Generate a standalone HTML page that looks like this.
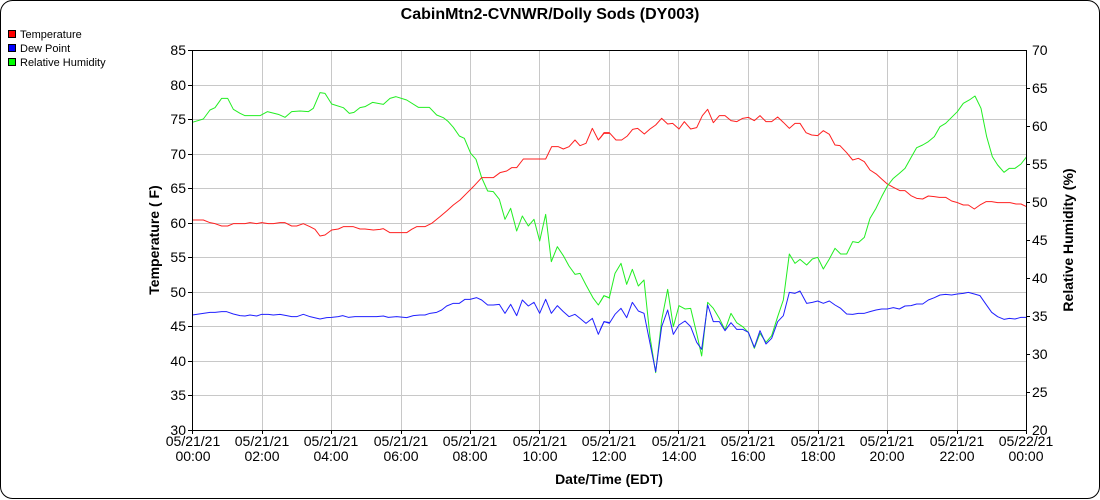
<!DOCTYPE html>
<html><head><meta charset="utf-8"><style>
html,body{margin:0;padding:0;background:#fff;}
svg{display:block;font-family:"Liberation Sans",sans-serif;}
</style></head><body>
<svg width="1100" height="500" viewBox="0 0 1100 500" xmlns="http://www.w3.org/2000/svg">
<rect x="0.5" y="0.5" width="1099" height="498" rx="12" fill="#fff" stroke="#000" stroke-width="1"/>
<text x="550" y="19" font-size="16" font-weight="bold" text-anchor="middle">CabinMtn2-CVNWR/Dolly Sods (DY003)</text>
<g font-size="11">
<rect x="8.5" y="30.5" width="7" height="7" fill="#f00" stroke="#000"/><text x="20" y="38">Temperature</text>
<rect x="8.5" y="44.5" width="7" height="7" fill="#00f" stroke="#000"/><text x="20" y="52">Dew Point</text>
<rect x="8.5" y="58.5" width="7" height="7" fill="#0f0" stroke="#000"/><text x="20" y="66">Relative Humidity</text>
</g>
<g stroke="#c8c8c8" stroke-width="1">
<line x1="192" y1="85.5" x2="1026" y2="85.5"/><line x1="192" y1="119.5" x2="1026" y2="119.5"/><line x1="192" y1="154.5" x2="1026" y2="154.5"/><line x1="192" y1="188.5" x2="1026" y2="188.5"/><line x1="192" y1="223.5" x2="1026" y2="223.5"/><line x1="192" y1="257.5" x2="1026" y2="257.5"/><line x1="192" y1="292.5" x2="1026" y2="292.5"/><line x1="192" y1="326.5" x2="1026" y2="326.5"/><line x1="192" y1="361.5" x2="1026" y2="361.5"/><line x1="192" y1="395.5" x2="1026" y2="395.5"/>
<line x1="262.5" y1="50" x2="262.5" y2="430"/><line x1="331.5" y1="50" x2="331.5" y2="430"/><line x1="401.5" y1="50" x2="401.5" y2="430"/><line x1="470.5" y1="50" x2="470.5" y2="430"/><line x1="539.5" y1="50" x2="539.5" y2="430"/><line x1="609.5" y1="50" x2="609.5" y2="430"/><line x1="678.5" y1="50" x2="678.5" y2="430"/><line x1="748.5" y1="50" x2="748.5" y2="430"/><line x1="818.5" y1="50" x2="818.5" y2="430"/><line x1="887.5" y1="50" x2="887.5" y2="430"/><line x1="957.5" y1="50" x2="957.5" y2="430"/>
</g>
<g fill="none" stroke-width="3" stroke-linejoin="round">
<g transform="translate(180,50) scale(0.33333)">
<polyline stroke="#22ee22" points="37,217 70,207 90,180 105,173 125,145 143,145 160,178 180,190 195,197 240,197 262,185 295,193 315,202 335,185 360,183 385,185 400,175 420,128 435,130 455,162 490,173 508,190 522,187 540,173 555,170 578,157 610,163 630,145 648,140 680,150 715,172 748,172 770,195 790,203 805,215 820,232 838,258 853,265 872,310 888,328 905,383 923,423 940,425 958,448 975,508 992,475 1010,543 1027,498 1045,528 1062,508 1079,573 1097,493 1114,635 1132,590 1150,617 1167,648 1185,673 1200,670 1218,705 1240,745 1255,765 1272,737 1290,745"/>
<polyline stroke="#ff2020" points="37,510 70,510 90,518 105,521 125,528 143,528 160,521 195,521 210,518 230,521 245,518 265,521 280,521 300,518 315,518 335,528 350,528 370,521 390,530 405,538 420,558 435,555 455,540 475,537 490,530 520,530 540,537 555,537 580,540 600,538 610,536 630,548 680,548 695,538 710,530 735,530 755,520 780,500 800,483 820,465 840,450 860,430 880,410 905,383 940,383 960,368 980,363 995,353 1010,353 1030,327 1097,327 1115,290 1135,290 1150,297 1167,290 1185,270 1200,287 1218,280 1237,235 1255,270 1272,250 1290,250"/>
<polyline stroke="#2020ff" points="37,795 90,787 105,787 125,785 140,785 160,792 180,797 195,798 210,795 230,798 245,793 265,793 280,795 300,793 320,797 335,800 350,800 370,793 390,800 420,807 440,803 455,802 475,800 488,797 505,802 525,800 545,800 570,800 590,800 610,798 625,802 650,800 680,803 700,797 720,795 735,795 750,790 770,787 785,780 800,768 820,760 838,760 855,748 870,748 890,743 905,750 923,765 940,765 958,763 975,790 992,763 1010,797 1027,750 1045,768 1062,757 1079,790 1097,748 1114,790 1132,767 1150,785 1167,800 1185,793 1200,805 1218,820 1237,805 1255,853 1272,815 1290,818"/>
</g>
<g transform="translate(600,50) scale(0.33333)">
<polyline stroke="#ff2020" points="0,265 12,248 28,248 48,270 65,270 82,258 98,238 113,235 133,252 150,237 167,225 185,205 203,222 218,220 237,237 253,215 272,237 290,233 307,197 323,178 340,218 358,197 375,197 393,212 410,215 428,205 445,202 463,212 480,197 498,215 515,215 533,201 550,217 568,235 585,220 600,220 618,248 635,255 653,257 670,242 688,253 705,285 720,287 740,308 758,330 775,325 793,335 810,360 830,373 845,387 862,402 880,412 900,422 915,422 933,437 950,445 968,447 985,438 1003,440 1018,442 1037,442 1055,453 1070,457 1090,465 1105,465 1123,477 1140,465 1158,455 1175,455 1193,458 1230,458 1248,462 1263,462 1280,470"/>
<polyline stroke="#22ee22" points="0,757 12,737 28,743 45,670 63,640 80,703 97,658 115,708 132,690 150,860 167,968 185,810 203,718 220,830 237,767 255,777 272,775 290,850 305,918 323,757 340,775 358,805 375,840 393,790 410,818 428,830 445,847 463,895 480,850 498,877 515,857 533,800 550,750 568,612 585,640 600,628 620,645 637,627 653,622 670,657 688,627 705,595 722,612 740,612 758,575 775,578 793,562 810,505 828,475 845,440 862,408 880,385 898,370 915,355 933,323 950,293 968,285 985,275 1003,260 1020,230 1037,220 1055,202 1072,185 1090,160 1108,150 1125,138 1143,175 1160,260 1177,320 1193,345 1212,367 1228,355 1245,355 1263,342 1280,320"/>
<polyline stroke="#2020ff" points="0,840 12,815 28,820 45,793 63,775 80,803 97,757 115,783 132,790 150,880 167,965 185,830 203,780 220,853 237,825 255,813 272,830 290,877 305,898 323,765 340,815 358,815 375,842 393,818 410,838 428,838 445,847 463,892 480,842 498,882 515,865 533,815 550,797 568,727 585,730 600,723 620,760 637,757 653,753 670,760 688,753 705,765 722,775 740,792 758,793 775,790 793,790 810,785 828,780 845,777 862,777 880,773 898,777 915,768 933,767 950,762 968,762 985,750 1003,743 1020,735 1037,733 1055,735 1072,732 1090,730 1105,727 1123,732 1140,737 1158,763 1175,787 1193,800 1212,808 1228,805 1245,807 1263,802 1280,802"/>
</g>
</g>
<g stroke="#000" stroke-width="1">
<line x1="192.5" y1="50" x2="192.5" y2="431"/><line x1="1026.5" y1="50" x2="1026.5" y2="431"/>
<line x1="192" y1="430.5" x2="1027" y2="430.5"/><line x1="192" y1="50.5" x2="1027" y2="50.5"/>
</g>
<g stroke="#000" stroke-width="1">
<line x1="188" y1="50.5" x2="192" y2="50.5"/><line x1="188" y1="85.5" x2="192" y2="85.5"/><line x1="188" y1="119.5" x2="192" y2="119.5"/><line x1="188" y1="154.5" x2="192" y2="154.5"/><line x1="188" y1="188.5" x2="192" y2="188.5"/><line x1="188" y1="223.5" x2="192" y2="223.5"/><line x1="188" y1="257.5" x2="192" y2="257.5"/><line x1="188" y1="292.5" x2="192" y2="292.5"/><line x1="188" y1="326.5" x2="192" y2="326.5"/><line x1="188" y1="361.5" x2="192" y2="361.5"/><line x1="188" y1="395.5" x2="192" y2="395.5"/><line x1="188" y1="430.5" x2="192" y2="430.5"/>
<line x1="1026" y1="88.5" x2="1030" y2="88.5"/><line x1="1026" y1="126.5" x2="1030" y2="126.5"/><line x1="1026" y1="164.5" x2="1030" y2="164.5"/><line x1="1026" y1="202.5" x2="1030" y2="202.5"/><line x1="1026" y1="240.5" x2="1030" y2="240.5"/><line x1="1026" y1="278.5" x2="1030" y2="278.5"/><line x1="1026" y1="316.5" x2="1030" y2="316.5"/><line x1="1026" y1="354.5" x2="1030" y2="354.5"/><line x1="1026" y1="392.5" x2="1030" y2="392.5"/>
<line x1="192.5" y1="430" x2="192.5" y2="434"/><line x1="262.5" y1="430" x2="262.5" y2="434"/><line x1="331.5" y1="430" x2="331.5" y2="434"/><line x1="401.5" y1="430" x2="401.5" y2="434"/><line x1="470.5" y1="430" x2="470.5" y2="434"/><line x1="539.5" y1="430" x2="539.5" y2="434"/><line x1="609.5" y1="430" x2="609.5" y2="434"/><line x1="678.5" y1="430" x2="678.5" y2="434"/><line x1="748.5" y1="430" x2="748.5" y2="434"/><line x1="818.5" y1="430" x2="818.5" y2="434"/><line x1="887.5" y1="430" x2="887.5" y2="434"/><line x1="957.5" y1="430" x2="957.5" y2="434"/><line x1="1026.5" y1="430" x2="1026.5" y2="434"/>
</g>
<g font-size="14" text-anchor="end">
<text x="186" y="55">85</text><text x="186" y="90">80</text><text x="186" y="124">75</text><text x="186" y="159">70</text><text x="186" y="193">65</text><text x="186" y="228">60</text><text x="186" y="262">55</text><text x="186" y="297">50</text><text x="186" y="331">45</text><text x="186" y="366">40</text><text x="186" y="400">35</text><text x="186" y="435">30</text>
</g>
<g font-size="14" text-anchor="start">
<text x="1032" y="55">70</text><text x="1032" y="93">65</text><text x="1032" y="131">60</text><text x="1032" y="169">55</text><text x="1032" y="207">50</text><text x="1032" y="245">45</text><text x="1032" y="283">40</text><text x="1032" y="321">35</text><text x="1032" y="359">30</text><text x="1032" y="397">25</text><text x="1032" y="435">20</text>
</g>
<g font-size="14" text-anchor="middle">
<text x="193" y="446">05/21/21</text><text x="193" y="461">00:00</text>
<text x="262" y="446">05/21/21</text><text x="262" y="461">02:00</text>
<text x="331" y="446">05/21/21</text><text x="331" y="461">04:00</text>
<text x="401" y="446">05/21/21</text><text x="401" y="461">06:00</text>
<text x="470" y="446">05/21/21</text><text x="470" y="461">08:00</text>
<text x="540" y="446">05/21/21</text><text x="540" y="461">10:00</text>
<text x="609" y="446">05/21/21</text><text x="609" y="461">12:00</text>
<text x="679" y="446">05/21/21</text><text x="679" y="461">14:00</text>
<text x="748" y="446">05/21/21</text><text x="748" y="461">16:00</text>
<text x="818" y="446">05/21/21</text><text x="818" y="461">18:00</text>
<text x="887" y="446">05/21/21</text><text x="887" y="461">20:00</text>
<text x="957" y="446">05/21/21</text><text x="957" y="461">22:00</text>
<text x="1026" y="446">05/22/21</text><text x="1026" y="461">00:00</text>
</g>
<text x="609" y="484" font-size="14" font-weight="bold" text-anchor="middle">Date/Time (EDT)</text>
<text transform="translate(159,240) rotate(-90)" font-size="14" font-weight="bold" text-anchor="middle">Temperature ( F)</text>
<text transform="translate(1073,240) rotate(-90)" font-size="14" font-weight="bold" text-anchor="middle">Relative Humidity (%)</text>
</svg>
</body></html>
